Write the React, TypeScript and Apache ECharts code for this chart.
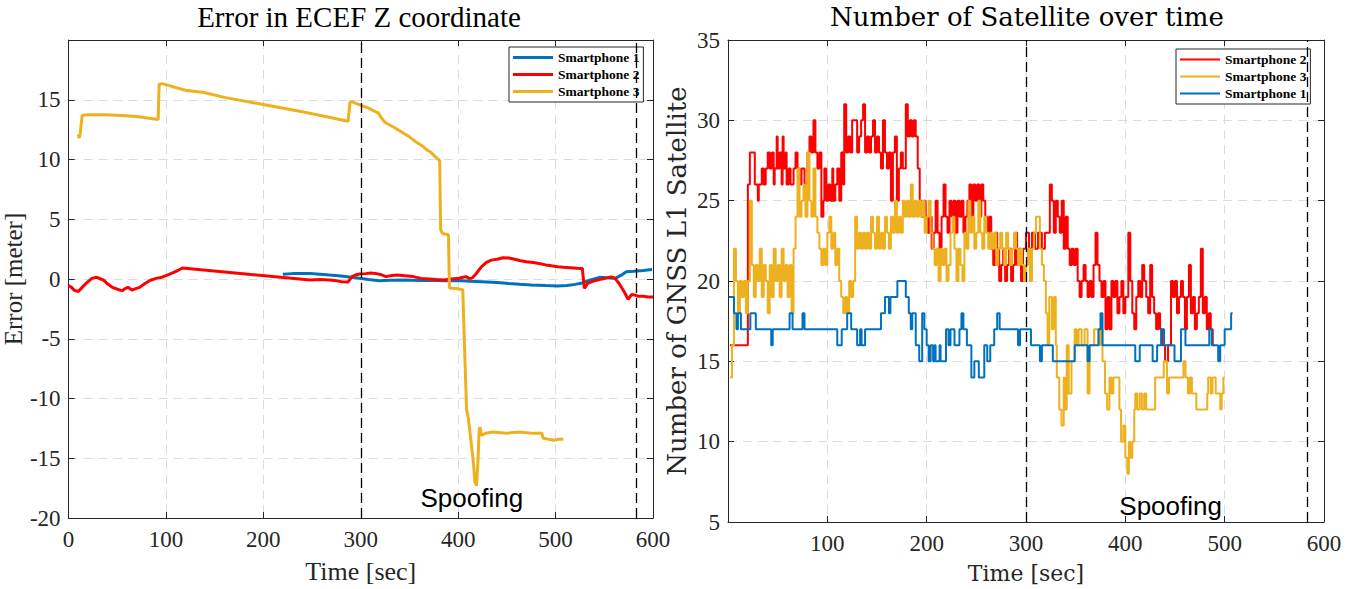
import React, { useEffect, useRef } from 'react';
import * as echarts from 'echarts';

// ---------- Left chart: Error in ECEF Z coordinate ----------
const errPhone1: [number, number][] = [
  [220, 0.39], [230, 0.45], [240, 0.47], [248, 0.47], [258, 0.4], [268, 0.33], [280, 0.25], [290, 0.15],
  [299, 0.06], [308, -0.05], [319, -0.14], [330, -0.1], [346, -0.08], [360, -0.12], [372, -0.1], [385, -0.14],
  [400, -0.12], [412, -0.18], [424, -0.22], [440, -0.3], [452, -0.38], [463, -0.44], [475, -0.5], [490, -0.55],
  [502, -0.58], [512, -0.55], [520, -0.45], [526, -0.36], [535, -0.1], [545, 0.14], [553, 0.1], [561, 0.06],
  [567, 0.3], [572.6, 0.61], [580, 0.65], [590, 0.72], [599, 0.8],
];

const errPhone2: [number, number][] = [
  [0, -0.55], [3, -0.7], [6, -0.95], [10, -1.05], [14, -0.7], [18, -0.36], [24, 0.05], [29, 0.14], [33, 0],
  [36, -0.1], [40, -0.4], [45, -0.7], [50, -0.85], [55, -1.0], [58, -0.8], [61, -0.7], [65, -0.92], [69, -0.8],
  [73, -0.7], [78, -0.4], [84, -0.1], [90, 0.05], [96, 0.15], [102, 0.35], [108, 0.55], [113, 0.75], [117, 0.92],
  [248, -0.08], [258, -0.05], [268, -0.08], [275, -0.15], [280, -0.22], [287, -0.25], [291, 0.2], [295, 0.35],
  [299, 0.42], [305, 0.45], [310, 0.5], [315, 0.47], [320, 0.38], [326, 0.2], [332, 0.3], [338, 0.33], [345, 0.28],
  [354, 0.2], [362, 0.05], [370, 0], [378, -0.05], [385, -0.08], [393, 0], [401, 0.06], [405, 0.15], [408, 0.2],
  [411, 0.05], [414, 0.06], [418, 0.4], [424, 1.03], [429, 1.4], [434, 1.58], [440, 1.65], [446, 1.78], [452, 1.75],
  [458, 1.65], [463, 1.55], [470, 1.45], [477, 1.38], [483, 1.3], [490, 1.18], [496, 1.1], [502, 1.03], [508, 0.98],
  [515, 0.95], [522, 0.9], [527.5, 0.88], [529.5, -0.78], [533, -0.36], [538, -0.2], [545, -0.05], [551, 0.05],
  [557, 0.18], [561, 0.05], [565, -0.36], [570, -1.0], [574.5, -1.7], [578, -1.3], [581, -1.33], [585, -1.45],
  [590, -1.45], [595, -1.5], [600, -1.5],
];

const errPhone3: [number, number][] = [
  [10, 12.1], [11, 11.8], [12, 12.2], [14, 13.7], [20, 13.75], [35, 13.75], [50, 13.7], [70, 13.6], [92, 13.35],
  [93, 16.3], [96, 16.35], [120, 15.8], [139, 15.6], [160, 15.2], [200, 14.6], [240, 14.0], [287, 13.2], [289, 14.8],
  [291, 14.85], [295, 14.7], [301, 14.5], [308, 14.3], [315, 14.0], [318, 13.9], [321, 13.5], [325, 13.1],
  [334, 12.7], [342, 12.3], [350, 11.9], [356, 11.5], [362, 11.2], [368, 10.8], [372, 10.6], [377, 10.2],
  [381, 9.9], [382, 4.1], [384, 3.8], [390, 3.7], [391, -0.75], [398, -0.8], [404.7, -0.9], [406.6, -5.9],
  [408.6, -10.9], [410.5, -11.7], [413.3, -13.7], [415.2, -15], [417.2, -17], [418.8, -17.3], [420.3, -15.3],
  [421.5, -12.6], [422.5, -12.4], [424, -13.1], [428, -12.9], [436, -12.8], [450, -12.9], [463, -12.8],
  [475, -12.9], [486, -12.9], [487, -13.3], [492, -13.4], [498, -13.5], [504, -13.4], [508, -13.4],
];

// ---------- Right chart: Number of satellites (change points) ----------
const satPhone2: [number, number][] = [
  [2, 16], [20, 26], [22, 28], [27, 26], [30, 25], [31, 26], [34, 27], [36, 26], [38, 27], [40, 28], [42, 27],
  [44, 28], [46, 26], [47, 27], [49, 29], [50, 27], [52, 28], [54, 26], [55, 29], [56, 27], [58, 28], [59, 26],
  [61, 27], [63, 26], [66, 27], [68, 28], [70, 27], [72, 26], [74, 27], [77, 26], [80, 28], [82, 29], [84, 28],
  [86, 30], [88, 28], [90, 27], [92, 28], [94, 24], [96, 25], [97, 27], [99, 25], [101, 26], [103, 25], [105, 27],
  [106, 25], [108, 26], [110, 27], [112, 25], [114, 28], [116, 26], [117, 31], [119, 28], [121, 29], [123, 28],
  [125, 30], [130, 28], [132, 29], [134, 30], [136, 31], [138, 28], [140, 29], [142, 28], [144, 29], [146, 30],
  [148, 28], [150, 29], [152, 28], [154, 27], [156, 30], [158, 28], [160, 27], [162, 28], [164, 25], [166, 28],
  [168, 29], [170, 25], [172, 27], [174, 28], [176, 27], [179, 31], [181, 29], [183, 30], [185, 29], [187, 30],
  [189, 29], [191, 27], [193, 25], [195, 24], [197, 25], [199, 24], [201, 23], [203, 24], [205, 22], [207, 23],
  [209, 25], [211, 23], [213, 22], [215, 24], [217, 26], [219, 24], [221, 23], [223, 25], [225, 24], [227, 25],
  [229, 23], [231, 25], [233, 24], [235, 25], [237, 23], [239, 24], [241, 25], [243, 26], [245, 24], [247, 26],
  [249, 25], [251, 26], [253, 24], [255, 26], [257, 25], [259, 24], [261, 23], [263, 24], [265, 22], [267, 21],
  [269, 23], [271, 22], [273, 20], [275, 21], [277, 22], [279, 20], [281, 21], [283, 22], [285, 20], [287, 21],
  [289, 23], [291, 21], [293, 22], [295, 20], [297, 22], [300, 23], [303, 22], [306, 23], [309, 22], [312, 23],
  [316, 22], [319, 23], [324, 26], [326, 25], [328, 23], [330, 25], [332, 24], [334, 23], [336, 25], [338, 22],
  [340, 24], [342, 22], [344, 21], [346, 22], [348, 21], [350, 22], [352, 20], [354, 19], [356, 20], [358, 21],
  [360, 20], [362, 19], [364, 20], [366, 19], [368, 21], [370, 23], [372, 21], [374, 20], [376, 19], [378, 20],
  [380, 17], [382, 19], [384, 17], [386, 20], [388, 19], [390, 20], [392, 18], [394, 19], [396, 20], [398, 18],
  [400, 19], [403, 23], [405, 20], [407, 18], [409, 17], [411, 19], [413, 20], [415, 19], [417, 21], [419, 20],
  [421, 19], [423, 18], [425, 21], [427, 19], [429, 18], [431, 17], [433, 18], [435, 17], [437, 16], [440, 15],
  [443, 16], [446, 20], [448, 19], [450, 20], [452, 18], [454, 19], [456, 20], [458, 19], [460, 17], [462, 19],
  [464, 21], [466, 18], [468, 19], [470, 17], [472, 18], [474, 19], [476, 22], [478, 18], [480, 19], [482, 17],
  [484, 18], [486, 17], [488, 16], [490, 16],
];

const satPhone3: [number, number][] = [
  [2, 14], [4, 16], [6, 22], [8, 20], [10, 18], [12, 20], [14, 19], [16, 20], [18, 18], [20, 20], [22, 25],
  [24, 21], [26, 19], [28, 21], [30, 20], [32, 22], [34, 19], [36, 21], [38, 20], [40, 18], [42, 21], [44, 19],
  [46, 22], [48, 20], [50, 21], [52, 19], [54, 22], [56, 20], [58, 21], [60, 19], [62, 21], [64, 18], [66, 22],
  [68, 24], [70, 27], [72, 24], [74, 25], [76, 26], [78, 24], [80, 28], [82, 25], [84, 24], [86, 27], [88, 24],
  [90, 23], [92, 22], [94, 21], [96, 22], [98, 21], [100, 23], [102, 24], [104, 22], [106, 23], [108, 21],
  [110, 22], [112, 20], [114, 19], [116, 18], [118, 19], [120, 18], [122, 20], [124, 19], [126, 20], [128, 24],
  [130, 22], [132, 23], [134, 22], [136, 23], [138, 22], [140, 23], [142, 22], [144, 24], [146, 23], [148, 22],
  [150, 24], [152, 22], [154, 23], [156, 22], [158, 24], [160, 23], [162, 22], [164, 24], [166, 23], [168, 25],
  [170, 23], [172, 24], [174, 23], [176, 25], [178, 24], [180, 25], [182, 24], [184, 26], [186, 24], [188, 25],
  [190, 24], [192, 25], [194, 24], [196, 25], [198, 23], [200, 24], [202, 25], [204, 23], [206, 22], [208, 21],
  [210, 22], [212, 20], [214, 22], [216, 21], [218, 22], [220, 20], [222, 21], [224, 23], [226, 24], [228, 22],
  [230, 20], [232, 22], [234, 21], [236, 20], [238, 23], [240, 22], [242, 25], [244, 23], [246, 24], [248, 22],
  [250, 23], [252, 25], [254, 23], [256, 22], [258, 24], [260, 23], [262, 22], [264, 23], [266, 22], [268, 23],
  [270, 21], [272, 22], [274, 23], [276, 22], [278, 21], [280, 23], [282, 22], [284, 21], [286, 22], [288, 23],
  [290, 22], [292, 21], [294, 22], [296, 21], [298, 20], [300, 21], [302, 22], [304, 20], [306, 22], [308, 23],
  [310, 24], [314, 22], [316, 21], [318, 20], [320, 18], [321.7, 16], [323.4, 19], [326, 17], [328, 19], [330, 16],
  [331, 14], [333.5, 12], [335.7, 11], [338, 14], [339, 12], [341, 16], [343, 13], [345.8, 15], [349, 17],
  [351, 16], [353, 17], [356, 16], [359, 17], [362, 13], [364, 16], [368.6, 17], [373, 16], [375, 17], [377, 15],
  [379.5, 13], [381.7, 12], [384, 14], [386, 13], [388, 14], [394, 12], [395.7, 10], [398, 11], [400, 9],
  [402, 8], [403.6, 10], [405, 9], [407, 10], [409, 12], [410, 13], [412, 12], [414.5, 13], [416.7, 12], [419, 13],
  [421, 12], [430, 14], [436.5, 14], [438.7, 15], [442, 13], [444, 14], [458.5, 15], [460.6, 14], [463, 13],
  [465, 14], [467, 13], [471.5, 12], [482.5, 13], [483.4, 14], [486, 13], [487.7, 14], [491, 13], [495.6, 12],
  [497, 13], [498.7, 14], [500, 14],
];

const satPhone1: [number, number][] = [
  [1, 19], [6, 18], [8.5, 17], [10, 18], [13, 17], [22.5, 18], [28, 17], [43.5, 16], [45, 17], [62, 18], [65, 17],
  [75, 18], [77, 17], [110, 16], [114.5, 17], [120, 18], [124, 17], [130, 16], [133, 17], [134.5, 16], [138, 17],
  [154, 18], [158, 19], [162, 18], [163.5, 19], [170.5, 20], [179, 19], [182, 18], [184, 17], [185.5, 18],
  [189, 16], [192.5, 15], [195.5, 18], [197.7, 17], [200, 16], [202, 15], [204, 16], [206.5, 15], [208, 16],
  [209, 15], [213, 16], [214, 15], [219.5, 17], [222, 16], [224, 17], [228, 16], [233, 17], [235, 18], [237, 17],
  [240.5, 16], [245, 14], [248, 15], [252.5, 14], [258, 16], [261, 15], [264, 16], [268, 17], [271, 18],
  [273.5, 17], [292, 16], [294, 17], [305, 16], [314, 15], [316, 16], [327, 15], [349, 16], [362, 15], [364, 16],
  [373, 17], [375, 18], [377, 16], [410, 15], [414.5, 16], [427.5, 15], [432, 16], [436, 17], [439, 16],
  [449.5, 15], [456, 17], [460.5, 16], [484.5, 17], [487, 16], [493.5, 15], [495.5, 16], [500, 17], [506.5, 18],
  [508, 18],
];

const spoofTimes = [300, 583];
const spoofLabel = 'Spoofing';
const phoneNames = ['Smartphone 1', 'Smartphone 2', 'Smartphone 3'];

const BLUE = '#0072BD';
const RED = '#FF0000';
const YELLOW = '#EDB120';
const AX = '#262626';
const SERIF = 'Liberation Serif';
const CM = 'DejaVu Serif';

const splitLine = { show: true, lineStyle: { color: '#dcdcdc', type: [9, 6], width: 1 } };

function boxAxis(gridIndex: number, pos: string, min: number, max: number, interval: number) {
  return {
    gridIndex, type: 'value', position: pos, min, max, interval,
    axisLine: { show: true, onZero: false, lineStyle: { color: AX, width: 1 } },
    axisTick: { show: true, inside: true, length: 6, lineStyle: { color: AX } },
    axisLabel: { show: false },
    splitLine: { show: false },
  };
}

export default function App() {
  const ref = useRef<HTMLDivElement>(null);
  useEffect(() => {
    const chart = echarts.init(ref.current!, undefined, { renderer: 'svg' });
    const tickLabel = { fontFamily: SERIF, fontSize: 23, color: AX };
    const markLine = {
      silent: true, symbol: ['none', 'none'], label: { show: false },
      lineStyle: { color: '#000', type: [10, 5], width: 1.3 },
      data: spoofTimes.map((t) => ({ xAxis: t })),
    };
    const mkPoint = (coord: number[]) => ({
      silent: true, symbol: 'circle', symbolSize: 1, itemStyle: { color: 'rgba(0,0,0,0)' },
      label: { show: true, position: 'inside', formatter: spoofLabel, fontFamily: 'Liberation Sans', fontSize: 26, color: '#000' },
      data: [{ coord }],
    });
    const option: any = {
      animation: false,
      backgroundColor: '#fff',
      textStyle: { fontFamily: SERIF },
      title: [
        { text: 'Error in ECEF Z coordinate', left: 359, top: 2, textAlign: 'center', padding: 0,
          textStyle: { fontFamily: SERIF, fontSize: 29, fontWeight: 'normal', color: '#000' } },
        { text: 'Number of Satellite over time', left: 1027, top: 4, textAlign: 'center', padding: 0,
          textStyle: { fontFamily: CM, fontSize: 26, fontWeight: 'normal', color: '#000' } },
      ],
      legend: [
        { data: phoneNames, orient: 'vertical', left: 509, top: 47, padding: [3, 4, 3, 4], itemGap: 2,
          itemWidth: 40, itemHeight: 3, icon: 'rect', selectedMode: false, backgroundColor: '#fff',
          borderColor: AX, borderWidth: 1,
          textStyle: { fontFamily: SERIF, fontSize: 13.5, fontWeight: 'bold', color: '#000', lineHeight: 15 } },
        { data: [phoneNames[1], phoneNames[2], phoneNames[0]], orient: 'vertical', left: 1176, top: 49,
          padding: [3, 4, 3, 4], itemGap: 2, itemWidth: 40, itemHeight: 2, icon: 'rect', selectedMode: false,
          backgroundColor: '#fff', borderColor: AX, borderWidth: 1,
          textStyle: { fontFamily: SERIF, fontSize: 13.5, fontWeight: 'bold', color: '#000', lineHeight: 15 } },
      ],
      grid: [
        { left: 65, top: 40, width: 588, height: 480 },
        { left: 728, top: 40, width: 596, height: 482 },
      ],
      xAxis: [
        { ...boxAxis(0, 'bottom', 0, 600, 100),
          axisLabel: { ...tickLabel, margin: 10 }, splitLine,
          name: 'Time [sec]', nameLocation: 'middle', nameGap: 40,
          nameTextStyle: { fontFamily: SERIF, fontSize: 26, color: AX } },
        boxAxis(0, 'top', 0, 600, 100),
        { ...boxAxis(1, 'bottom', 0, 600, 100),
          axisLabel: { ...tickLabel, margin: 10, formatter: (v: number) => (v === 0 ? '' : String(v)) }, splitLine,
          name: 'Time [sec]', nameLocation: 'middle', nameGap: 40,
          nameTextStyle: { fontFamily: CM, fontSize: 22, color: AX } },
        boxAxis(1, 'top', 0, 600, 100),
      ],
      yAxis: [
        { ...boxAxis(0, 'left', -20, 20, 5),
          axisLabel: { ...tickLabel, margin: 8, formatter: (v: number) => (v === 20 ? '' : String(v)) }, splitLine,
          name: 'Error [meter]', nameLocation: 'middle', nameGap: 29,
          nameTextStyle: { fontFamily: SERIF, fontSize: 25, color: AX } },
        boxAxis(0, 'right', -20, 20, 5),
        { ...boxAxis(1, 'left', 5, 35, 5),
          axisLabel: { ...tickLabel, margin: 8 }, splitLine,
          name: 'Number of GNSS L1 Satellite', nameLocation: 'middle', nameGap: 38,
          nameTextStyle: { fontFamily: CM, fontSize: 26, color: AX } },
        boxAxis(1, 'right', 5, 35, 5),
      ],
      series: [
        { name: phoneNames[0], type: 'line', xAxisIndex: 0, yAxisIndex: 0, data: errPhone1, symbol: 'none',
          color: BLUE, lineStyle: { width: 3, color: BLUE } },
        { name: phoneNames[1], type: 'line', xAxisIndex: 0, yAxisIndex: 0, data: errPhone2, symbol: 'none',
          color: RED, lineStyle: { width: 3, color: RED } },
        { name: phoneNames[2], type: 'line', xAxisIndex: 0, yAxisIndex: 0, data: errPhone3, symbol: 'none',
          color: YELLOW, lineStyle: { width: 3, color: YELLOW },
          markLine, markPoint: mkPoint([414, -18.3]) },
        { name: phoneNames[1], type: 'line', xAxisIndex: 2, yAxisIndex: 2, data: satPhone2, symbol: 'none', step: 'end',
          color: RED, lineStyle: { width: 2, color: RED } },
        { name: phoneNames[2], type: 'line', xAxisIndex: 2, yAxisIndex: 2, data: satPhone3, symbol: 'none', step: 'end',
          color: YELLOW, lineStyle: { width: 2, color: YELLOW } },
        { name: phoneNames[0], type: 'line', xAxisIndex: 2, yAxisIndex: 2, data: satPhone1, symbol: 'none', step: 'end',
          color: BLUE, lineStyle: { width: 2, color: BLUE },
          markLine, markPoint: mkPoint([445.6, 6]) },
      ],
    };
    chart.setOption(option);
    return () => chart.dispose();
  }, []);
  return (
    <div
      ref={ref}
      style={{ position: 'fixed', left: 0, top: 0, width: 1364, height: 589, background: '#fff' }}
    />
  );
}
